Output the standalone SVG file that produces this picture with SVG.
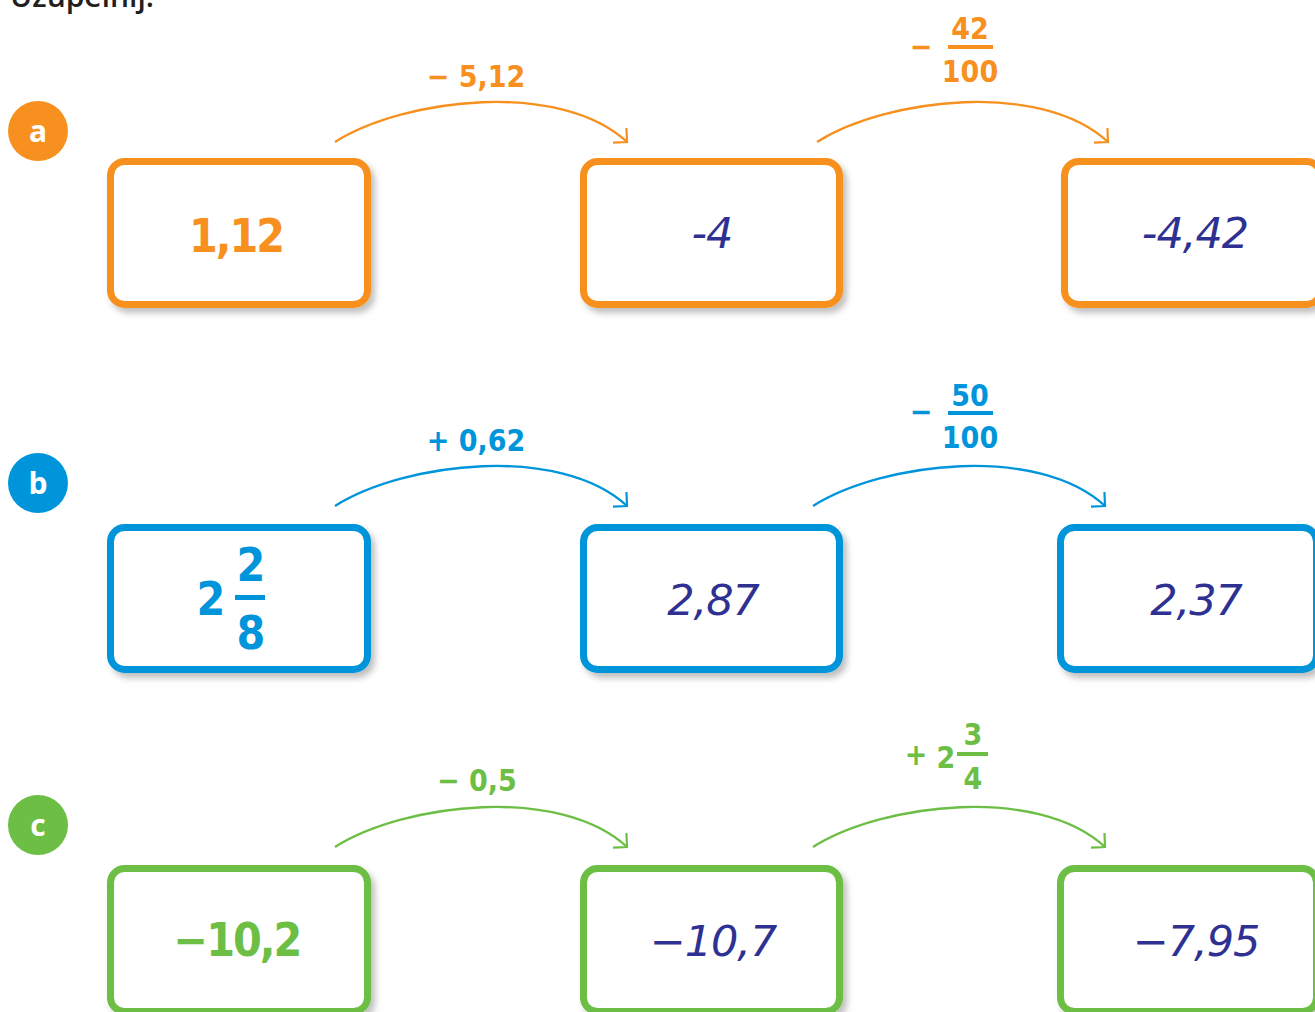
<svg xmlns="http://www.w3.org/2000/svg" width="1315" height="1012" viewBox="0 0 1315 1012">
<defs>
<filter id="sh" x="-10%" y="-10%" width="125%" height="130%">
<feDropShadow dx="4" dy="5" stdDeviation="3" flood-color="#000" flood-opacity="0.25"/>
</filter>
<marker id="ao" markerUnits="userSpaceOnUse" markerWidth="24" markerHeight="24" refX="0" refY="0" viewBox="-12 -12 24 24" orient="auto" overflow="visible"><path d="M-9.9,-9.9 L0,0 L-9.9,9.9" fill="none" stroke="#f7901e" stroke-width="2.2"/></marker>
<marker id="ab" markerUnits="userSpaceOnUse" markerWidth="24" markerHeight="24" refX="0" refY="0" viewBox="-12 -12 24 24" orient="auto" overflow="visible"><path d="M-9.9,-9.9 L0,0 L-9.9,9.9" fill="none" stroke="#0095da" stroke-width="2.2"/></marker>
<marker id="ag" markerUnits="userSpaceOnUse" markerWidth="24" markerHeight="24" refX="0" refY="0" viewBox="-12 -12 24 24" orient="auto" overflow="visible"><path d="M-9.9,-9.9 L0,0 L-9.9,9.9" fill="none" stroke="#6cbe45" stroke-width="2.2"/></marker>
</defs>
<style>
.box{fill:#fff;stroke-width:7;filter:url(#sh)}
.o{stroke:#f7901e}.b{stroke:#0095da}.g{stroke:#6cbe45}
.fo{fill:#f7901e}.fb{fill:#0095da}.fg{fill:#6cbe45}
.arc{fill:none;stroke-width:2.3}
.lbl{font-family:"DejaVu Sans Condensed","DejaVu Sans",sans-serif;font-weight:bold;font-size:30px}
.big{font-family:"DejaVu Sans Condensed","DejaVu Sans",sans-serif;font-weight:bold;font-size:46px;letter-spacing:-2px}
.hw{font-family:"DejaVu Sans","Liberation Sans",sans-serif;font-style:italic;font-size:43px;letter-spacing:-1px;fill:#2e3192}
.bad{font-family:"Open Sans","DejaVu Sans",sans-serif;font-weight:bold;font-size:30px;fill:#fff}
.head{font-family:"Open Sans","DejaVu Sans",sans-serif;font-weight:600;font-size:30px;fill:#231f20}
</style>
<text class="head" x="10" y="7">Uzupełnij.</text>

<g id="badge-a"><circle cx="38" cy="131" r="30" class="fo"/><text class="bad" x="38" y="142" text-anchor="middle">a</text></g>
<g id="badge-b"><circle cx="38" cy="483" r="30" class="fb"/><text class="bad" x="38" y="494" text-anchor="middle">b</text></g>
<g id="badge-c"><circle cx="38" cy="825" r="30" class="fg"/><text class="bad" x="38" y="836" text-anchor="middle">c</text></g>

<g id="connectors">
<path class="arc o" marker-end="url(#ao)" d="M335,142 C405,98 560,80 627,142"/>
<path class="arc o" marker-end="url(#ao)" d="M817,142 C887,98 1041,80 1108,142"/>
<path class="arc b" marker-end="url(#ab)" d="M335,506 C405,462 560,444 627,506"/>
<path class="arc b" marker-end="url(#ab)" d="M813,506 C883,462 1038,444 1105,506"/>
<path class="arc g" marker-end="url(#ag)" d="M335,847 C405,803 560,785 627,847"/>
<path class="arc g" marker-end="url(#ag)" d="M813,847 C883,803 1038,785 1105,847"/>
<g id="lbl-a1"><text class="lbl fo" x="476" y="87" text-anchor="middle">− 5,12</text></g>
<g id="lbl-a2"><text class="lbl fo" x="921" y="57" text-anchor="middle">−</text><text class="lbl fo" x="970" y="39" text-anchor="middle">42</text><rect x="948" y="45" width="45" height="4" class="fo"/><text class="lbl fo" x="970" y="82" text-anchor="middle">100</text></g>
<g id="lbl-b1"><text class="lbl fb" x="476" y="451" text-anchor="middle">+ 0,62</text></g>
<g id="lbl-b2"><text class="lbl fb" x="921" y="422" text-anchor="middle">−</text><text class="lbl fb" x="970" y="406" text-anchor="middle">50</text><rect x="948" y="411" width="45" height="4" class="fb"/><text class="lbl fb" x="970" y="448" text-anchor="middle">100</text></g>
<g id="lbl-c1"><text class="lbl fg" x="477" y="791" text-anchor="middle">− 0,5</text></g>
<g id="lbl-c2"><text class="lbl fg" x="916" y="765" text-anchor="middle">+</text><text class="lbl fg" x="946" y="768" text-anchor="middle">2</text><rect x="957" y="752" width="31" height="4" class="fg"/><text class="lbl fg" x="973" y="745" text-anchor="middle">3</text><text class="lbl fg" x="973" y="789" text-anchor="middle">4</text></g>
</g>

<g id="a1"><rect class="box o" x="110.5" y="161.5" width="257" height="143" rx="14"/><text class="big fo" x="236" y="252" text-anchor="middle">1,12</text></g>
<g id="a2"><rect class="box o" x="583.5" y="161.5" width="256" height="143" rx="14"/><text class="hw" x="712" y="248" text-anchor="middle">-4</text></g>
<g id="a3"><rect class="box o" x="1064.5" y="161.5" width="256" height="143" rx="14"/><text class="hw" x="1195" y="248" text-anchor="middle">-4,42</text></g>

<g id="b1"><rect class="box b" x="110.5" y="527.5" width="257" height="142" rx="14"/><text class="big fb" x="210" y="615" text-anchor="middle" font-size="44">2</text><text class="big fb" x="250" y="581" text-anchor="middle" font-size="44">2</text><rect x="235" y="595" width="30" height="5" class="fb"/><text class="big fb" x="250" y="649" text-anchor="middle" font-size="44">8</text></g>
<g id="b2"><rect class="box b" x="583.5" y="527.5" width="256" height="142" rx="14"/><text class="hw" x="713" y="615" text-anchor="middle">2,87</text></g>
<g id="b3"><rect class="box b" x="1060.5" y="527.5" width="256" height="142" rx="14"/><text class="hw" x="1196" y="615" text-anchor="middle">2,37</text></g>

<g id="c1"><rect class="box g" x="110.5" y="868.5" width="257" height="143" rx="14"/><text class="big fg" x="237" y="956" text-anchor="middle">−10,2</text></g>
<g id="c2"><rect class="box g" x="583.5" y="868.5" width="256" height="143" rx="14"/><text class="hw" x="713" y="956" text-anchor="middle">−10,7</text></g>
<g id="c3"><rect class="box g" x="1060.5" y="868.5" width="256" height="143" rx="14"/><text class="hw" x="1196" y="956" text-anchor="middle">−7,95</text></g>
</svg>
